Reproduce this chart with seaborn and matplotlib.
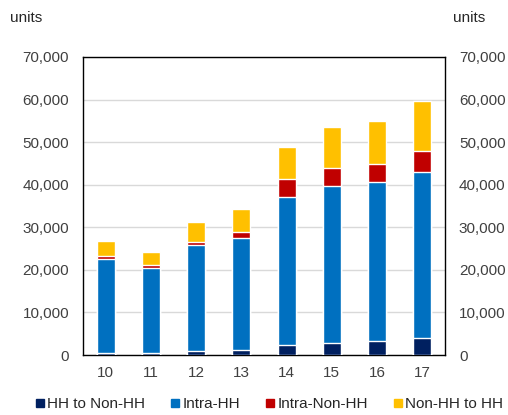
import numpy as np
import pandas as pd
import matplotlib
matplotlib.use("Agg")
import matplotlib.pyplot as plt
from matplotlib.lines import Line2D
import seaborn as sns

years = ["10", "11", "12", "13", "14", "15", "16", "17"]
hh_to_nonhh = [550, 500, 940, 1250, 2350, 2740, 3370, 3900]
intra_hh = [22000, 20000, 24800, 26150, 34650, 37050, 37300, 39200]
intra_nonhh = [700, 600, 800, 1500, 4300, 4200, 4200, 4800]
nonhh_to_hh = [3550, 3000, 4800, 5500, 7500, 9600, 10200, 11800]

series = ["HH to Non-HH", "Intra-HH", "Intra-Non-HH", "Non-HH to HH"]
colors = ["#002060", "#0070C0", "#C00000", "#FFC000"]

df = pd.DataFrame({"year": years,
                   "HH to Non-HH": hh_to_nonhh,
                   "Intra-HH": intra_hh,
                   "Intra-Non-HH": intra_nonhh,
                   "Non-HH to HH": nonhh_to_hh})
cum = df[series].cumsum(axis=1)

sns.set_style("white")
plt.rcParams["font.family"] = ["Liberation Sans", "DejaVu Sans"]

fig = plt.figure(figsize=(5.08, 4.15), dpi=100)
ax = fig.add_axes([83 / 508, 1 - 355 / 415, (445 - 83) / 508, (355 - 57) / 415])

# stacked bars: draw cumulative totals from the top down
for name, col in reversed(list(zip(series, colors))):
    sns.barplot(x=df["year"], y=cum[name], color=col, width=0.4,
                saturation=1, ax=ax, zorder=3)

ax.set_ylim(0, 70000)
ax.set_yticks(np.arange(0, 70001, 10000))
ax.set_yticklabels([f"{v:,}" for v in range(0, 70001, 10000)])
ax.yaxis.grid(True, color="#d9d9d9", linewidth=1, zorder=0)
ax.set_axisbelow(True)
ax.set_xlabel("")
ax.set_ylabel("")
for s in ax.spines.values():
    s.set_visible(True)
    s.set_color("black")
    s.set_linewidth(1)
ax.tick_params(axis="y", length=0, labelsize=11, labelcolor="#404040",
               labelright=True, pad=10)
ax.tick_params(axis="x", length=0, labelsize=11, labelcolor="#404040", pad=8)

fig.text(10 / 508, 1 - 18 / 415, "units", fontsize=11, va="center", ha="left")
fig.text(453 / 508, 1 - 18 / 415, "units", fontsize=11, va="center", ha="left")

handles = [Line2D([], [], marker="s", linestyle="", color=c, markersize=6)
           for c in colors]
fig.legend(handles, series, loc="center", bbox_to_anchor=(0.53, 1 - 404 / 415),
           ncol=4, frameon=False, fontsize=11, handlelength=0.6,
           handletextpad=0.15, columnspacing=1.7)

fig.savefig("out.png", dpi=100)
